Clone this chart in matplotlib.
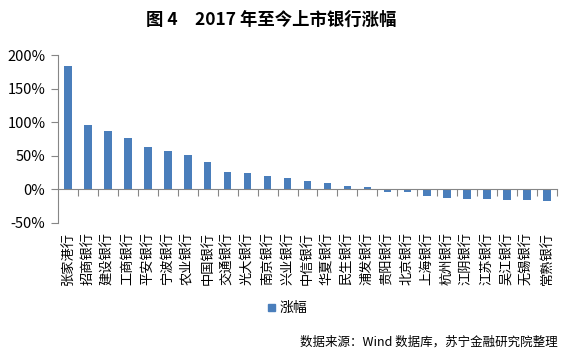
import matplotlib
matplotlib.use("Agg")
import matplotlib.pyplot as plt
import matplotlib.transforms as mtransforms
from matplotlib.patches import Rectangle

plt.rcParams['font.family'] = ['Noto Sans CJK SC', 'DejaVu Sans']

banks = ["张家港行", "招商银行", "建设银行", "工商银行", "平安银行", "宁波银行", "农业银行",
         "中国银行", "交通银行", "光大银行", "南京银行", "兴业银行", "中信银行", "华夏银行",
         "民生银行", "浦发银行", "贵阳银行", "北京银行", "上海银行", "杭州银行", "江阴银行",
         "江苏银行", "吴江银行", "无锡银行", "常熟银行"]
gains = [184, 96, 87, 77, 63, 57, 51, 41, 26, 24, 20, 17, 12.5, 9, 5, 3.5,
         -4, -4, -9.5, -12.5, -14, -14, -15.5, -15.5, -17]
yticks = [-50, 0, 50, 100, 150, 200]
ytick_labels = ["-50%", "0%", "50%", "100%", "150%", "200%"]
title = "图 4　2017 年至今上市银行涨幅"
legend_label = "涨幅"
source = "数据来源：Wind 数据库，苏宁金融研究院整理"

color = "#4A7EBB"
axis_color = "#868686"

fig = plt.figure(figsize=(5.78, 3.54), dpi=100)
ax = fig.add_axes([0.1003, 0.371, 0.8634, 0.4728])

n = len(banks)
x = list(range(n))
ax.bar(x, gains, width=0.38, color=color, zorder=2)
ax.set_xlim(-0.5, n - 0.5)
ax.set_ylim(-50, 200)

for s in ["top", "right"]:
    ax.spines[s].set_visible(False)
ax.spines["left"].set_color(axis_color)
ax.spines["bottom"].set_color(axis_color)
ax.spines["bottom"].set_position(("data", 0))

ax.set_yticks(yticks)
ax.set_yticklabels(ytick_labels)
ax.tick_params(axis="y", direction="out", length=5, color=axis_color,
               labelsize=10.5, pad=4, labelcolor="#000000")
ax.set_xticks([i - 0.5 for i in range(1, n + 1)])
ax.set_xticklabels([])
ax.tick_params(axis="x", direction="out", length=5, color=axis_color)

trans = mtransforms.blended_transform_factory(ax.transData, ax.transAxes)
offset = mtransforms.ScaledTranslation(0, -7 / 72, fig.dpi_scale_trans)
for xi, name in zip(x, banks):
    ax.text(xi, 0, name, transform=trans + offset, rotation=90,
            ha="center", va="top", fontsize=9.5, color="#000000")

fig.text(0.47, 1 - 20 / 354, title, ha="center", va="center", fontsize=12.5,
         fontweight="bold")

# legend
fig.patches.append(Rectangle((268 / 578, 1 - 311 / 354), 7 / 578, 7 / 354,
                             transform=fig.transFigure, color=color))
fig.text(280 / 578, 1 - 307.5 / 354, legend_label, ha="left", va="center",
         fontsize=10)

fig.text(0.965, 1 - 342 / 354, source, ha="right", va="center", fontsize=9,
         style="italic", color="#000000")

fig.savefig("out.png", dpi=100)
